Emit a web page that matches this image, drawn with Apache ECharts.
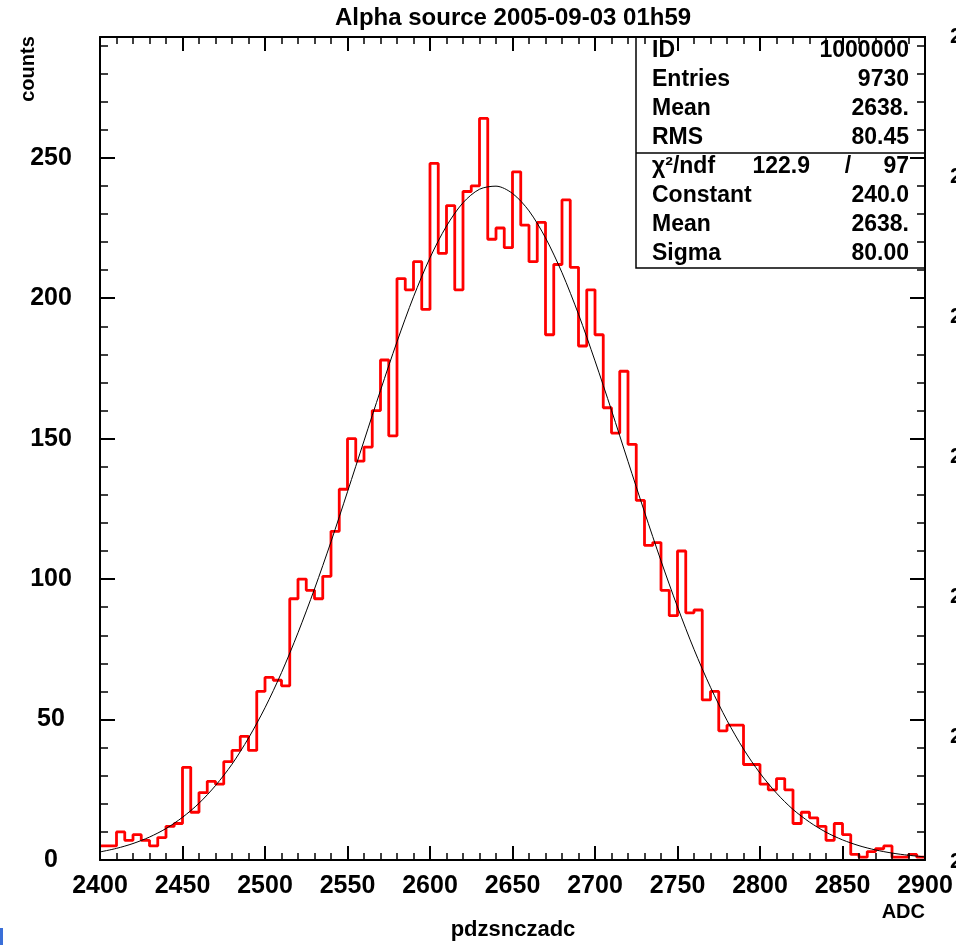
<!DOCTYPE html>
<html><head><meta charset="utf-8">
<script src="https://cdn.jsdelivr.net/npm/echarts@6/dist/echarts.min.js"></script>
<style>html,body{margin:0;padding:0;background:#fff}
#wrap{position:relative;width:956px;height:945px}
#c,#s{position:absolute;left:0;top:0;width:956px;height:945px}
#s{pointer-events:none}</style>
</head><body><div id="wrap"><div id="c"></div><div id="s"></div></div>
<script>
// ---- data ----
const binStart = 2400;
const binWidth = 5;
const counts = [
  5, 5, 10, 7, 9, 7, 5, 8, 12, 13,
  33, 17, 24, 28, 27, 35, 39, 44, 39, 60,
  65, 64, 62, 93, 100, 96, 93, 101, 117, 132,
  150, 142, 147, 160, 178, 151, 207, 203, 213, 196,
  248, 216, 233, 203, 238, 240, 264, 221, 225, 218,
  245, 226, 213, 227, 187, 212, 235, 211, 183, 203,
  187, 161, 152, 174, 148, 128, 112, 113, 96, 87,
  110, 88, 89, 57, 60, 46, 48, 48, 34, 34,
  27, 25, 29, 25, 13, 17, 15, 12, 7, 13,
  9, 2, 1, 3, 4, 5, 1, 1, 2, 1
];
const fitX = [2400,2410,2420,2430,2440,2450,2460,2470,2480,2490,2500,2510,2520,2530,2540,2550,2560,2570,2580,2590,2600,2610,2620,2630,2640,2650,2660,2670,2680,2690,2700,2710,2720,2730,2740,2750,2760,2770,2780,2790,2800,2810,2820,2830,2840,2850,2860,2870,2880,2890,2900];
const fitY = [2.87,4.14,5.86,8.17,11.2,15.2,20.2,26.5,34.1,43.4,54.2,66.7,80.9,96.5,113.3,131.1,149.2,167.2,184.5,200.5,214.4,225.7,234.0,238.8,239.9,237.3,231.1,221.5,209.1,194.3,177.7,160.1,141.9,123.9,106.5,90.1,75.0,61.5,49.7,39.5,30.9,23.8,18.0,13.5,9.9,7.17,5.10,3.58,2.47,1.68,1.12];
const xTickLabels = [2400,2450,2500,2550,2600,2650,2700,2750,2800,2850,2900];
const yTickLabels = [0,50,100,150,200,250];
const titleText = 'Alpha source 2005-09-03 01h59';
const xTitle = 'pdzsnczadc';
const xUnit = 'ADC';
const yTitle = 'counts';
const statLabels = ['ID','Entries','Mean','RMS'];
const statValues = ['1000000','9730','2638.','80.45'];
const chiLabel = 'χ²/ndf';
const chiValue = '122.9';
const ndfValue = '97';
const fitLabels = ['Constant','Mean','Sigma'];
const fitValues = ['240.0','2638.','80.00'];

// ---- chart ----
const FONT = '"Liberation Sans", Arial, sans-serif';
const chart = echarts.init(document.getElementById('c'), null, {renderer:'canvas'});
const stats = echarts.init(document.getElementById('s'), null, {renderer:'canvas'});

const histData = counts.map((v,i)=>[binStart + i*binWidth, v]);
histData.push([binStart + counts.length*binWidth, counts[counts.length-1]]);
const fitData = fitX.map((x,i)=>[x, fitY[i]]);

const XMIN = 2400, XMAX = 2900, YMIN = 0, YMAX = 293;
const black = '#000';
function xAx(pos, major, showLabel){
  return {
    type:'value', gridIndex:0, position:pos, min:XMIN, max:XMAX, interval: major?50:10, z:10,
    axisLine:{show: major, onZero:false, lineStyle:{color:black, width:2}},
    axisTick:{show:true, inside:true, length: major?14:7, lineStyle:{color:black, width: major?2:1.5}},
    axisLabel:{show:showLabel, margin:14, fontSize:25, fontWeight:'bold', color:black, fontFamily:FONT,
      formatter:(v)=> xTickLabels.indexOf(v)>=0 ? String(v) : '', showMinLabel:true, showMaxLabel:true, hideOverlap:false},
    splitLine:{show:false}
  };
}
function yAx(pos, major, showLabel){
  return {
    type:'value', gridIndex:0, position:pos, min:YMIN, max:YMAX, interval: major?50:10, z:10,
    axisLine:{show: major, onZero:false, lineStyle:{color:black, width:2}},
    axisTick:{show:true, inside:true, length: major?15:8, lineStyle:{color:black, width: major?2:1.5}},
    axisLabel:{show:showLabel, margin:49, align:'center', fontSize:25, fontWeight:'bold', color:black, fontFamily:FONT,
      formatter:(v)=> yTickLabels.indexOf(v)>=0 ? String(v) : '', hideOverlap:false},
    splitLine:{show:false}
  };
}

function txt(x,y,t,align,font,extra){
  const o = {type:'text', x:x, y:y, style:{text:t, font:font, fill:black, textAlign:align, textVerticalAlign:'middle'}};
  if (extra) Object.assign(o, extra);
  return o;
}

// main chart decorations
const graphics = [];
graphics.push(txt(513, 18, titleText, 'center', 'bold 24px ' + FONT));
graphics.push(txt(925, 912, xUnit, 'right', 'bold 20px ' + FONT));
graphics.push(txt(513, 930, xTitle, 'center', 'bold 22px ' + FONT));
graphics.push(txt(28, 69, yTitle, 'center', 'bold 20px ' + FONT, {rotation: Math.PI/2}));
[37, 177, 317, 457, 597, 737, 862].forEach(y=>{
  graphics.push(txt(950, y, '2', 'left', 'bold 22px ' + FONT));
});
graphics.push({type:'rect', shape:{x:0, y:928, width:3, height:17}, style:{fill:'#3a6fd8'}});

chart.setOption({
  animation:false,
  backgroundColor:'#fff',
  grid:{left:100, right:31, top:37, bottom:85, containLabel:false},
  xAxis:[xAx('bottom',true,true), xAx('bottom',false,false), xAx('top',true,false), xAx('top',false,false)],
  yAxis:[yAx('left',true,true), yAx('left',false,false), yAx('right',true,false), yAx('right',false,false)],
  series:[
    {type:'line', xAxisIndex:0, yAxisIndex:0, data:histData, step:'end', showSymbol:false, symbol:'none',
      lineStyle:{color:'#ff0000', width:2.8}, z:3, clip:true},
    {type:'line', xAxisIndex:0, yAxisIndex:0, data:fitData, smooth:0.3, showSymbol:false, symbol:'none',
      lineStyle:{color:black, width:1}, z:4, clip:true}
  ],
  graphic:{elements:graphics}
});

// statistics box on a transparent overlay
const sg = [];
const BX = 636, BY = 37, BW = 289, BH = 231;
sg.push({type:'rect', shape:{x:BX, y:BY, width:BW, height:BH}, style:{fill:'none', stroke:black, lineWidth:1.5}});
sg.push({type:'line', shape:{x1:BX, y1:153, x2:BX+BW, y2:153}, style:{stroke:black, lineWidth:1.5}});
const rowY0 = 51, rowStep = 29;
const STFONT = 'bold 23px ' + FONT;
statLabels.forEach((l,i)=>{
  sg.push(txt(652, rowY0 + i*rowStep, l, 'left', STFONT));
  sg.push(txt(909, rowY0 + i*rowStep, statValues[i], 'right', STFONT));
});
sg.push(txt(652, rowY0 + 4*rowStep, chiLabel, 'left', STFONT));
sg.push(txt(810, rowY0 + 4*rowStep, chiValue, 'right', STFONT));
sg.push(txt(848, rowY0 + 4*rowStep, '/', 'center', STFONT));
sg.push(txt(909, rowY0 + 4*rowStep, ndfValue, 'right', STFONT));
fitLabels.forEach((l,i)=>{
  sg.push(txt(652, rowY0 + (5+i)*rowStep, l, 'left', STFONT));
  sg.push(txt(909, rowY0 + (5+i)*rowStep, fitValues[i], 'right', STFONT));
});
stats.setOption({animation:false, backgroundColor:'transparent', graphic:{elements:sg}});
</script></body></html>
